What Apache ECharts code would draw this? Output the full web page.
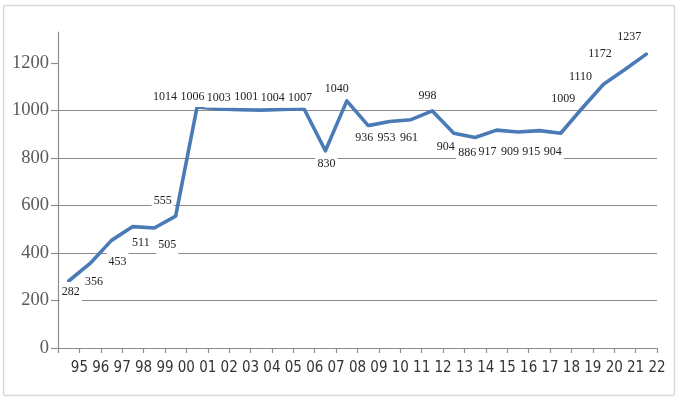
<!DOCTYPE html>
<html>
<head>
<meta charset="utf-8">
<script src="https://cdn.jsdelivr.net/npm/echarts@6/dist/echarts.min.js"></script>
<style>
  html, body { margin: 0; padding: 0; background: #fff; }
  #chart { width: 680px; height: 402px; }
</style>
</head>
<body>
<div id="chart"></div>
<script>
// year labels along the x axis, one per category
const years = ['95', '96', '97', '98', '99', '00', '01', '02', '03', '04', '05', '06', '07', '08',
  '09', '10', '11', '12', '13', '14', '15', '16', '17', '18', '19', '20', '21', '22'];

// yearly values
const values = [282, 356, 453, 511, 505, 555, 1014, 1006, 1003, 1001, 1004, 1007, 830, 1040,
  936, 953, 961, 998, 904, 886, 917, 909, 915, 904, 1009, 1110, 1172, 1237];

const yTicks = [0, 200, 400, 600, 800, 1000, 1200];

// where each value label sits relative to its point (px), as placed in the original
const labelShift = [
  [2, 11], [4, 18], [6, 21], [8, 16], [13, 17], [-13, -15], [-32, -10], [-26, -12],
  [-21, -12], [-15, -13], [-10, -12], [-4, -11], [1, 13], [-10, -12], [-4, 12],
  [-3, 16], [-2, 18], [-5, -15], [-8, 14], [-8, 15], [-9, 22], [-8, 20], [-8, 21],
  [-8, 19], [-19, -9], [-23, -7], [-25, -16], [-17, -17]
];

const chart = echarts.init(document.getElementById('chart'));

// points sit in the middle of each year slot
const points = values.map(function (v, i) {
  return {
    value: [i + 0.5, v],
    label: { offset: labelShift[i] }
  };
});

const option = {
  animation: false,
  graphic: [{
    type: 'rect',
    shape: { x: 3.5, y: 5.5, width: 671, height: 390, r: 2 },
    style: { fill: 'none', stroke: '#d9d9d9', lineWidth: 1.5 },
    silent: true
  }],
  grid: { left: 58, right: 23, top: 32, bottom: 54 },
  xAxis: {
    type: 'value',
    min: 0,
    max: years.length,
    interval: 1,
    axisLine: { lineStyle: { color: '#8c8c8c', width: 1.2 } },
    axisTick: { show: true, length: 5, inside: false, lineStyle: { color: '#8c8c8c', width: 1.2 } },
    splitLine: { show: false },
    axisLabel: {
      margin: 13,
      fontFamily: '"Liberation Sans Narrow", "DejaVu Sans Condensed", sans-serif',
      fontSize: 15,
      color: '#333',
      formatter: function (v) {
        return v >= 1 ? years[v - 1] : '';
      }
    }
  },
  yAxis: {
    type: 'value',
    min: 0,
    max: 1330,
    interval: 200,
    axisLine: { show: true, lineStyle: { color: '#8c8c8c', width: 1.2 } },
    axisTick: { show: true, length: 7, customValues: yTicks, lineStyle: { color: '#8c8c8c', width: 1.2 } },
    splitLine: { show: true, showMaxLine: false, lineStyle: { color: '#8c8c8c', width: 1.2 } },
    axisLabel: {
      margin: 9,
      customValues: yTicks,
      fontFamily: '"Liberation Serif", serif',
      fontSize: 18.5,
      color: '#595959',
      formatter: function (v) { return String(v); }
    }
  },
  series: [{
    type: 'line',
    data: points,
    symbol: 'circle',
    symbolSize: 0.01,
    lineStyle: { color: '#4a7bb7', width: 3.6, cap: 'round', join: 'round' },
    itemStyle: { color: '#4a7bb7' },
    label: {
      show: true,
      position: 'inside',
      formatter: function (p) { return p.value[1]; },
      fontFamily: '"Liberation Serif", serif',
      fontSize: 12,
      color: '#222',
      backgroundColor: '#fff',
      padding: [4, 2]
    },
    z: 3
  }]
};

chart.setOption(option);
</script>
</body>
</html>
